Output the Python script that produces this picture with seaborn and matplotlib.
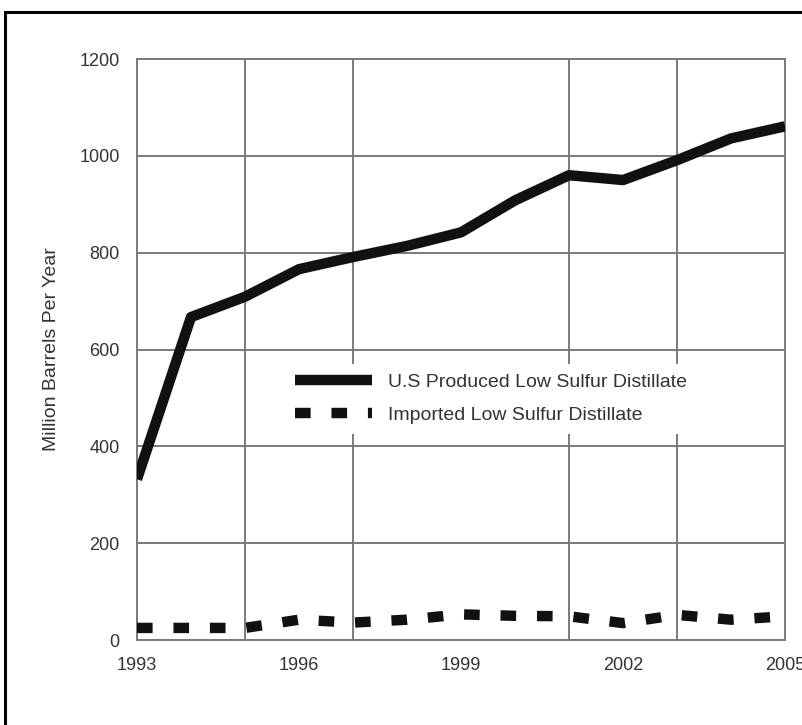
import pandas as pd
import matplotlib.pyplot as plt
import seaborn as sns
from matplotlib.patches import Rectangle

# -----------------------------------------------
# data
# -----------------------------------------------
years = [1993, 1994, 1995, 1996, 1997, 1998, 1999, 2000, 2001, 2002, 2003, 2004, 2005]
us_produced = [332, 667, 709, 766, 791, 814, 842, 908, 960, 950, 991, 1036, 1061]
imported = [25, 25, 25, 42, 36, 42, 53, 50, 49, 35, 52, 42, 49]

label_us = "U.S Produced Low Sulfur Distillate"
label_imp = "Imported Low Sulfur Distillate"

df = pd.DataFrame({"year": years, "us": us_produced, "imp": imported})

# -----------------------------------------------
# plot
# -----------------------------------------------
sns.set_style("white")
plt.rcParams["font.family"] = ["Liberation Sans", "DejaVu Sans"]

fig = plt.figure(figsize=(8.03, 7.25), dpi=100)
ax = fig.add_axes([0.1706, 0.1172, 0.807, 0.8014])

grey = "#7a7a7a"
dash = (1.5, 2.0)

sns.lineplot(data=df, x="year", y="us", ax=ax, color="#111111", linewidth=7.5,
             solid_capstyle="butt", label=label_us, zorder=3)
sns.lineplot(data=df, x="year", y="imp", ax=ax, color="#111111", linewidth=7.5,
             label=label_imp, zorder=3)
ax.lines[1].set_dashes(dash)
ax.lines[1].set_dash_capstyle("butt")

ax.set_xlim(1993, 2005)
ax.set_ylim(0, 1200)
ax.set_xticks([1993, 1996, 1999, 2002, 2005])
ax.set_xticks([1995, 1997, 1999, 2001, 2003], minor=True)
ax.set_yticks(range(0, 1201, 200))

ax.grid(False)
ax.grid(axis="y", which="major", color=grey, linewidth=1.4)
ax.grid(axis="x", which="minor", color=grey, linewidth=1.4)
ax.tick_params(axis="x", which="minor", length=0)
ax.tick_params(axis="both", which="major", direction="out", length=9.5, width=1.2,
               color=grey, labelsize=13, labelcolor="#333333", pad=3)
for s in ax.spines.values():
    s.set_color(grey)
    s.set_linewidth(1.4)

ax.set_xlabel("")
ax.set_ylabel("Million Barrels Per Year", fontsize=14, color="#333333", labelpad=14)

leg = ax.legend(loc="center", bbox_to_anchor=(0.546, 0.415), frameon=True,
                fontsize=14, handlelength=4.0, handletextpad=0.8,
                labelspacing=0.8, borderpad=0.5)
leg.get_frame().set_facecolor("white")
leg.get_frame().set_edgecolor("none")
leg.get_frame().set_alpha(1)
for t in leg.get_texts():
    t.set_color("#333333")
leg.get_lines()[1].set_dashes(dash)
leg.get_lines()[1].set_dash_capstyle("butt")

# outer box around the figure (right and bottom edges run off the image)
fig.patches.append(Rectangle((5 / 803, -0.1), 1.2, 1 - 12 / 725 + 0.1,
                             transform=fig.transFigure, fill=False,
                             edgecolor="black", linewidth=2.2))

plt.savefig("out.png", dpi=100)
